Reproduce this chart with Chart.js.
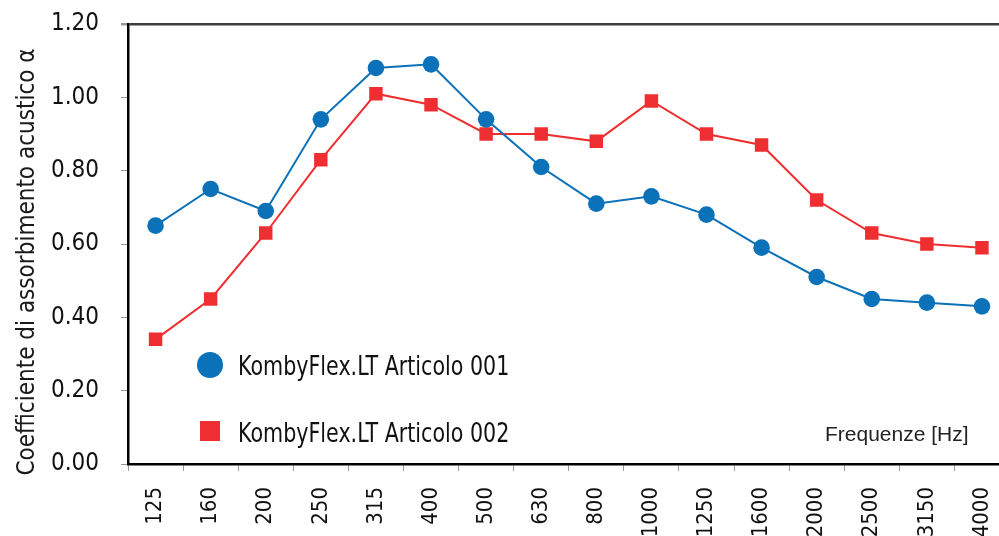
<!DOCTYPE html>
<html>
<head>
<meta charset="utf-8">
<script src="https://cdn.jsdelivr.net/npm/chart.js@4.4.1/dist/chart.umd.min.js"></script>
<style>
  html, body { margin: 0; padding: 0; background: #fff; overflow: hidden; }
  #wrap { width: 1019px; height: 536px; }
</style>
</head>
<body>
<div id="wrap"><canvas id="chart" width="1019" height="536"></canvas></div>
<script>
// frequencies (Hz)
const categories = ['125', '160', '200', '250', '315', '400', '500', '630',
  '800', '1000', '1250', '1600', '2000', '2500', '3150', '4000'];

// absorption coefficients
const articolo001 = [0.65, 0.75, 0.69, 0.94, 1.08, 1.09, 0.94, 0.81,
  0.71, 0.73, 0.68, 0.59, 0.51, 0.45, 0.44, 0.43];
const articolo002 = [0.34, 0.45, 0.63, 0.83, 1.01, 0.98, 0.90, 0.90,
  0.88, 0.99, 0.90, 0.87, 0.72, 0.63, 0.60, 0.59];

const seriesNames = ['KombyFlex.LT Articolo 001', 'KombyFlex.LT Articolo 002'];
const yTickValues = [0, 0.2, 0.4, 0.6, 0.8, 1.0, 1.2];
const yTitle = 'Coefficiente di assorbimento acustico \u03B1';
const xTitle = 'Frequenze [Hz]';

const BLUE = '#0b71b9';
const RED = '#ee2e30';
const narrow = '"Liberation Sans Narrow", "DejaVu Sans Condensed", sans-serif';

// legend, axis titles drawn by hand (legend sits inside the plot)
const extras = {
  id: 'extras',
  afterDraw(chart) {
    const ctx = chart.ctx;
    const ds = chart.data.datasets;
    ctx.save();

    // y title
    ctx.fillStyle = '#1a1a1a';
    ctx.font = '24px ' + narrow;
    ctx.textAlign = 'center';
    ctx.textBaseline = 'middle';
    ctx.translate(28, 262);
    ctx.rotate(-Math.PI / 2);
    ctx.fillText(yTitle, 0, 0);
    ctx.setTransform(1, 0, 0, 1, 0, 0);

    // legend
    ctx.fillStyle = ds[0].borderColor;
    ctx.beginPath();
    ctx.arc(210, 365, 13, 0, Math.PI * 2);
    ctx.fill();
    ctx.fillStyle = ds[1].borderColor;
    ctx.fillRect(200, 421, 20, 20);

    ctx.fillStyle = '#111';
    ctx.font = '27px ' + narrow;
    ctx.textAlign = 'left';
    ctx.textBaseline = 'alphabetic';
    [[ds[0].label, 375], [ds[1].label, 442]].forEach(([txt, y]) => {
      ctx.save();
      ctx.translate(238, y);
      ctx.scale(0.85, 1);
      ctx.fillText(txt, 0, 0);
      ctx.restore();
    });

    // x title
    ctx.fillStyle = '#222';
    ctx.font = '21px "Liberation Sans", Arial, sans-serif';
    ctx.fillText(xTitle, 825, 441);
    ctx.restore();
  }
};

new Chart(document.getElementById('chart'), {
  type: 'line',
  data: {
    labels: categories,
    datasets: [
      {
        label: seriesNames[0],
        data: articolo001,
        borderColor: BLUE,
        backgroundColor: BLUE,
        borderWidth: 2,
        pointStyle: 'circle',
        pointRadius: 8.3,
        pointBorderWidth: 0,
        tension: 0
      },
      {
        label: seriesNames[1],
        data: articolo002,
        borderColor: RED,
        backgroundColor: RED,
        borderWidth: 2,
        pointStyle: 'rect',
        pointRadius: 9.5,
        pointBorderWidth: 0,
        tension: 0
      }
    ]
  },
  options: {
    responsive: false,
    animation: false,
    layout: { padding: { top: 24, right: 0, bottom: 0, left: 0 } },
    plugins: {
      legend: { display: false },
      tooltip: { enabled: false }
    },
    scales: {
      x: {
        offset: true,
        grid: {
          offset: true,
          drawOnChartArea: false,
          tickLength: 7,
          tickColor: '#999'
        },
        border: { color: '#000', width: 2.5 },
        ticks: {
          minRotation: 90,
          maxRotation: 90,
          autoSkip: false,
          padding: 16,
          color: '#111',
          font: { family: narrow, size: 22 }
        },
        afterFit(scale) {
          scale.height = 72;
          scale.paddingLeft = 0;
          scale.paddingRight = 0;
        }
      },
      y: {
        min: 0,
        max: 1.2,
        afterBuildTicks(scale) {
          scale.ticks = yTickValues.map(v => ({ value: v }));
        },
        grid: {
          drawOnChartArea: true,
          color: c => (c.tick && c.tick.value === 1.2) ? '#3c3c3c' : 'rgba(0,0,0,0)',
          lineWidth: c => (c.tick && c.tick.value === 1.2) ? 2.5 : 1,
          tickLength: 7,
          tickColor: '#999'
        },
        border: { color: '#000', width: 2.5 },
        ticks: {
          padding: 22,
          color: '#111',
          font: { family: narrow, size: 24 },
          callback: v => Number(v).toFixed(2)
        },
        afterFit(scale) {
          scale.width = 128;
          scale.paddingTop = 0;
          scale.paddingBottom = 0;
        }
      }
    }
  },
  plugins: [extras]
});
</script>
</body>
</html>
